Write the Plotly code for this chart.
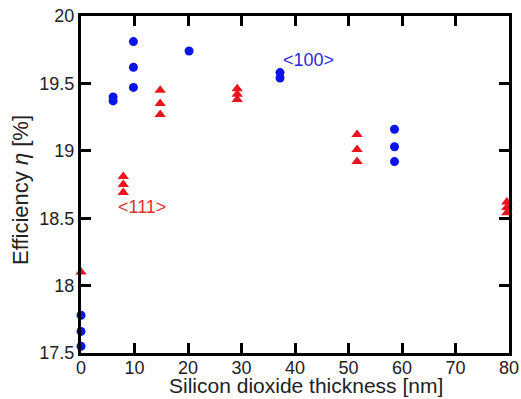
import plotly.graph_objects as go

# <100> wafers (blue circles)
x100 = [0, 0, 0, 6, 6, 9.8, 9.8, 9.8, 20.2, 37.2, 37.2, 58.6, 58.6, 58.6]
y100 = [17.78, 17.66, 17.55, 19.37, 19.40, 19.81, 19.62, 19.47, 19.74, 19.58, 19.54, 19.16, 19.03, 18.92]

# <111> wafers (red triangles)
x111 = [0, 7.9, 7.9, 7.9, 14.8, 14.8, 14.8, 29.2, 29.2, 29.2, 51.6, 51.6, 51.6, 79.6, 79.6, 79.6]
y111 = [18.10, 18.81, 18.75, 18.69, 19.45, 19.35, 19.27, 19.46, 19.42, 19.38, 19.12, 19.01, 18.92, 18.62, 18.58, 18.54]

xticks = [0, 10, 20, 30, 40, 50, 60, 70, 80]
yticks = [17.5, 18, 18.5, 19, 19.5, 20]

FONT = "Liberation Sans, Arial"

fig = go.Figure()
fig.add_trace(go.Scatter(x=x100, y=y100, mode="markers", cliponaxis=False,
                         marker=dict(symbol="circle", size=9, color="#0a14e6"), showlegend=False))
fig.add_trace(go.Scatter(x=x111, y=y111, mode="markers", cliponaxis=False,
                         marker=dict(symbol="triangle-up", size=10, color="#e8141e"), showlegend=False))

fig.add_annotation(x=37.3, y=19.67, text="&lt;100&gt;", showarrow=False, xanchor="left",
                   font=dict(color="#2a2ad8", size=18, family=FONT))
fig.add_annotation(x=6.6, y=18.58, text="&lt;111&gt;", showarrow=False, xanchor="left",
                   font=dict(color="#e03030", size=18, family=FONT))

# axis titles
fig.add_annotation(xref="paper", yref="paper", x=0.526, y=-0.135, text="Silicon dioxide thickness [nm]",
                   showarrow=False, xanchor="center", yanchor="bottom", borderpad=0,
                   font=dict(size=21, color="#222", family=FONT))
fig.add_annotation(xref="paper", yref="paper", x=-0.140, y=0.484, text="Efficiency <i>η</i> [%]",
                   showarrow=False, xanchor="center", yanchor="middle", textangle=-90,
                   font=dict(size=22, color="#222", family=FONT))

axis_common = dict(showgrid=False, zeroline=False, showline=True, linecolor="black", linewidth=3,
                   ticks="inside", ticklen=10, tickwidth=3, tickcolor="black", mirror="ticks",
                   automargin=False,
                   tickfont=dict(size=18, color="#222", family=FONT))

fig.update_xaxes(range=[0, 80], tickvals=xticks, ticktext=[str(v) for v in xticks],
                 ticklabelstandoff=-4, **axis_common)
fig.update_yaxes(range=[17.5, 20], tickvals=yticks, ticktext=["17.5", "18", "18.5", "19", "19.5", "20"],
                 ticklabelstandoff=0, **axis_common)

fig.update_layout(width=521, height=399, margin=dict(l=81, r=12, t=16, b=46, autoexpand=False),
                  plot_bgcolor="white", paper_bgcolor="white")

fig.write_html("out.html")
